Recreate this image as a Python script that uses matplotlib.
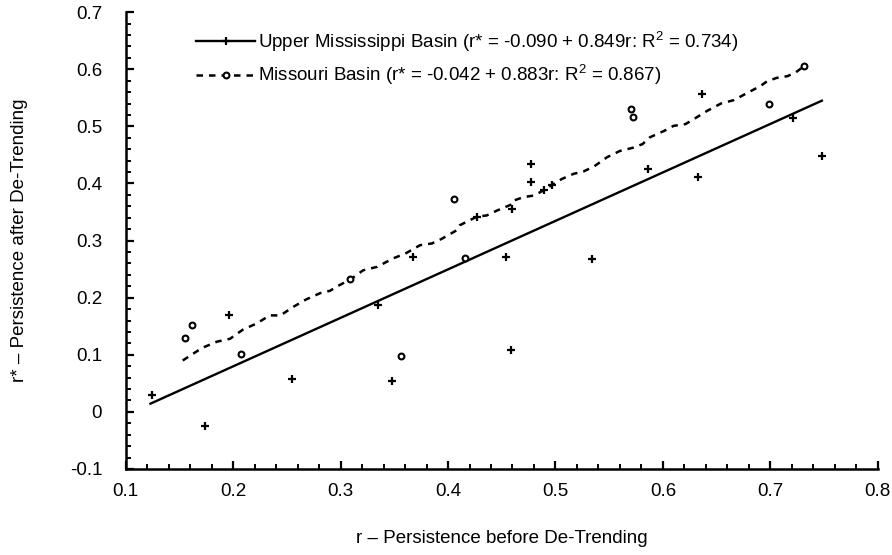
"""
Persistence before vs after de-trending for two basins.

Scatter of r (before) against r* (after), with the fitted line for the
Upper Mississippi and the traced dashed curve for the Missouri basin.
"""

import matplotlib
matplotlib.use("Agg")
import matplotlib.pyplot as plt
import numpy as np
from matplotlib.ticker import MultipleLocator

OUT_PATH = "out.png"

# Upper Mississippi Basin stations (r, r*)
miss_r = [0.124, 0.174, 0.196, 0.255, 0.335, 0.348, 0.367, 0.427, 0.454, 0.460, 0.459,
          0.477, 0.477, 0.489, 0.497, 0.534, 0.586, 0.633, 0.636, 0.721, 0.748]
miss_rstar = [0.030, -0.024, 0.170, 0.058, 0.188, 0.054, 0.271, 0.342, 0.271, 0.356, 0.109,
              0.434, 0.402, 0.388, 0.398, 0.267, 0.425, 0.411, 0.556, 0.514, 0.449]

# Missouri Basin stations (r, r*)
mo_r = [0.155, 0.162, 0.207, 0.309, 0.356, 0.406, 0.416, 0.570, 0.572, 0.699, 0.731]
mo_rstar = [0.130, 0.153, 0.102, 0.232, 0.098, 0.373, 0.270, 0.530, 0.516, 0.540, 0.605]

# fitted line for Upper Mississippi (from legend) and its x extent
miss_fit = (-0.090, 0.849)
miss_fit_r = [0.123, 0.748]

# dashed Missouri curve
mo_curve_r = [0.153, 0.171, 0.185, 0.197, 0.209, 0.222, 0.234, 0.244, 0.256, 0.268,
              0.281, 0.290, 0.299, 0.309, 0.321, 0.334, 0.349, 0.360, 0.374, 0.385,
              0.394, 0.408, 0.411, 0.427, 0.436, 0.446, 0.460, 0.461, 0.470, 0.480,
              0.489, 0.498, 0.506, 0.517, 0.526, 0.536, 0.548, 0.560, 0.573, 0.581,
              0.588, 0.601, 0.610, 0.621, 0.629, 0.641, 0.654, 0.666, 0.679, 0.691,
              0.697, 0.706, 0.716, 0.724, 0.731]
mo_curve_rstar = [0.090, 0.112, 0.123, 0.128, 0.144, 0.155, 0.169, 0.169, 0.184, 0.197,
                  0.208, 0.212, 0.222, 0.232, 0.248, 0.254, 0.269, 0.277, 0.292, 0.295,
                  0.303, 0.318, 0.327, 0.342, 0.344, 0.353, 0.364, 0.370, 0.376, 0.379,
                  0.388, 0.399, 0.408, 0.417, 0.421, 0.430, 0.446, 0.457, 0.463, 0.469,
                  0.481, 0.492, 0.501, 0.504, 0.513, 0.527, 0.540, 0.546, 0.559, 0.571,
                  0.579, 0.585, 0.588, 0.595, 0.605]

miss_label = "Upper Mississippi Basin (r* = -0.090 + 0.849r: R$^2$ = 0.734)"
mo_label = "Missouri Basin (r* = -0.042 + 0.883r: R$^2$ = 0.867)"
xlabel = "r \u2013 Persistence before De-Trending"
ylabel = "r* \u2013 Persistence after De-Trending"


def setup_style():
    plt.rcParams["font.family"] = ["Liberation Sans", "DejaVu Sans"]
    plt.rcParams["mathtext.fontset"] = "custom"
    plt.rcParams["mathtext.rm"] = "Liberation Sans"
    plt.rcParams["mathtext.it"] = "Liberation Sans:italic"


def plot_persistence(output_path):
    fig = plt.figure(figsize=(8.92, 5.55), dpi=100)
    ax = fig.add_axes([0.141, 0.155, 0.843, 0.823])

    # fit line + points for the Mississippi
    fit_x = np.array(miss_fit_r)
    fit_y = miss_fit[0] + miss_fit[1] * fit_x
    ax.plot(fit_x, fit_y, color="black", lw=1.7)
    ax.plot(miss_r, miss_rstar, ls="none", marker="+", ms=6, mew=1.6, color="black")

    # dashed curve + points for the Missouri
    ax.plot(mo_curve_r, mo_curve_rstar, color="black", lw=1.8, dashes=(2.6, 2.4))
    ax.plot(mo_r, mo_rstar, ls="none", marker="o", ms=4.2, mew=1.5,
            mfc="white", mec="black")

    # legend proxies (line with marker in the middle)
    h1, = ax.plot([], [], color="black", lw=1.7, marker="+", ms=6, mew=1.6)
    h2, = ax.plot([], [], color="black", lw=1.8, dashes=(2.6, 2.4), marker="o",
                  ms=4.2, mew=1.5, mfc="white", mec="black")
    ax.legend([h1, h2], [miss_label, mo_label], loc="upper left",
              bbox_to_anchor=(0.094, 0.962), frameon=False, fontsize=13.5,
              handlelength=3.1, handletextpad=0.2, labelspacing=0.5,
              borderpad=0, borderaxespad=0, numpoints=1)

    ax.set_xlim(0.1, 0.8)
    ax.set_ylim(-0.1, 0.7)
    ax.xaxis.set_major_locator(MultipleLocator(0.1))
    ax.xaxis.set_minor_locator(MultipleLocator(0.02))
    ax.yaxis.set_major_locator(MultipleLocator(0.1))
    ax.yaxis.set_minor_locator(MultipleLocator(0.02))
    ax.set_xticklabels([f"{v:.1f}" for v in ax.get_xticks()])
    ax.set_yticklabels(["0" if abs(v) < 1e-9 else f"{v:.1f}" for v in ax.get_yticks()])

    ax.spines["top"].set_visible(False)
    ax.spines["right"].set_visible(False)
    for side in ["left", "bottom"]:
        ax.spines[side].set_linewidth(1.8)

    ax.tick_params(which="major", direction="in", length=6, width=1.6, labelsize=13.5)
    ax.tick_params(which="minor", direction="in", length=3.5, width=1.4)
    ax.tick_params(axis="y", pad=17)
    ax.tick_params(axis="x", pad=10)

    ax.set_xlabel(xlabel, fontsize=13.5, labelpad=22)
    ax.set_ylabel(ylabel, fontsize=13.5, labelpad=30)

    fig.savefig(output_path, dpi=100)
    plt.close(fig)
    print(f"Chart saved to {output_path}")


def main():
    setup_style()
    plot_persistence(OUT_PATH)


if __name__ == "__main__":
    main()
